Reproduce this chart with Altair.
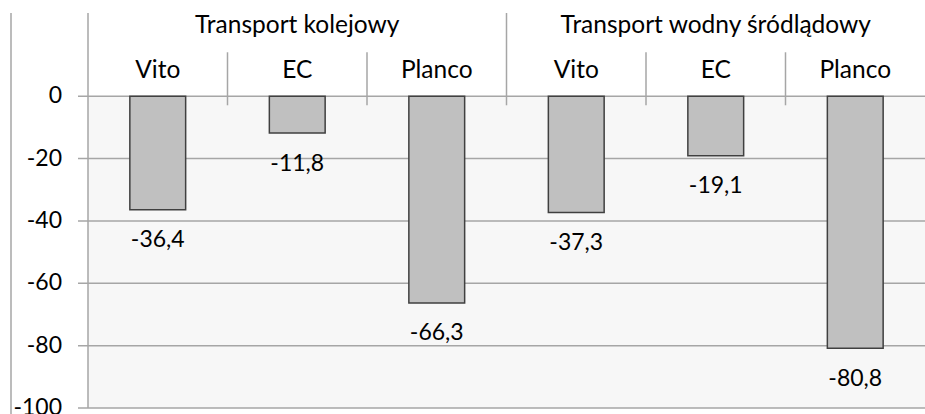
import altair as alt
import pandas as pd

groups = ["Transport kolejowy"] * 3 + ["Transport wodny śródlądowy"] * 3
methods = ["Vito", "EC", "Planco", "Vito", "EC", "Planco"]
values = [-36.4, -11.8, -66.3, -37.3, -19.1, -80.8]
y_ticks = [-100, -80, -60, -40, -20, 0]

keys = [f"{g}|{m}" for g, m in zip(groups, methods)]
df = pd.DataFrame({"key": keys, "group": groups, "method": methods, "value": values,
                   "pos": list(range(len(keys)))})
ticks_df = pd.DataFrame({"t": y_ticks})

W, H = 837, 395
FONT = "Lato"
FS_NUM = 23
FS_CAT = 24.5
GRID = "#a6a6a6"

xscale = alt.Scale(type="band", paddingInner=0, paddingOuter=0)
xenc = alt.X("key:N", sort=keys, axis=None, scale=xscale)
yscale = alt.Scale(domain=[-100, 26.7], nice=False, zero=False)

one = pd.DataFrame({"a": [0]})

background = alt.Chart(one).mark_rect(fill="#f7f7f7").encode(
    x=alt.value(0), x2=alt.value(W),
    y=alt.YDatum(0, axis=None, scale=yscale), y2=alt.Y2Datum(-100))

grid = alt.Chart(ticks_df).mark_rule(color=GRID, strokeWidth=1.5).encode(
    x=alt.value(-10), x2=alt.value(W),
    y=alt.Y("t:Q", scale=yscale, axis=None))

ylabels = alt.Chart(ticks_df).transform_calculate(
    lab="toString(datum.t)"
).mark_text(font=FONT, fontSize=FS_NUM, color="#000000", align="right",
            baseline="middle").encode(
    x=alt.value(-26), y=alt.Y("t:Q", scale=yscale, axis=None), text="lab:N")

domain = alt.Chart(one).mark_rule(color=GRID, strokeWidth=1.5).encode(
    x=alt.value(0), y=alt.value(0), y2=alt.value(H))

bars = alt.Chart(df).mark_bar(width={"band": 0.4}, fill="#c0c0c0", stroke="#404040",
                              strokeWidth=1.5).encode(
    x=xenc,
    y=alt.Y("value:Q", scale=yscale, axis=None),
    y2=alt.Y2Datum(0))

vlabels = alt.Chart(df).transform_calculate(
    lab="replace(toString(datum.value), '.', ',')"
).mark_text(font=FONT, fontSize=FS_NUM, color="#000000", baseline="alphabetic",
            dy=37.5).encode(
    x=xenc, y=alt.Y("value:Q", scale=yscale, axis=None), text="lab:N")

sublabels = alt.Chart(df).mark_text(font=FONT, fontSize=FS_CAT, color="#000000",
                                    baseline="alphabetic").encode(
    x=xenc, y=alt.YDatum(5.84, axis=None), text="method:N")

grouplabels = alt.Chart(df).transform_filter("datum.pos == 1 || datum.pos == 4").mark_text(
    font=FONT, fontSize=FS_CAT, color="#000000", baseline="alphabetic").encode(
    x=xenc, y=alt.YDatum(20.3, axis=None), text="group:N")

sep_short = alt.Chart(df).transform_filter(
    "datum.pos == 1 || datum.pos == 2 || datum.pos == 4 || datum.pos == 5"
).mark_rule(color=GRID, strokeWidth=1.5).encode(
    x=alt.X("key:N", sort=keys, axis=None, scale=xscale, bandPosition=0),
    y=alt.YDatum(-2.9, axis=None), y2=alt.Y2Datum(14.1))

sep_tall = alt.Chart(df).transform_filter("datum.pos == 3").mark_rule(
    color=GRID, strokeWidth=1.5).encode(
    x=alt.X("key:N", sort=keys, axis=None, scale=xscale, bandPosition=0),
    y=alt.YDatum(-2.9, axis=None), y2=alt.Y2Datum(26.7))

border = alt.Chart(one).mark_rule(color=GRID, strokeWidth=1.5).encode(
    x=alt.value(-77), y=alt.value(0), y2=alt.value(H + 30))

chart = alt.layer(
    background, grid, domain, sep_short, sep_tall, bars, vlabels, ylabels,
    sublabels, grouplabels, border
).properties(
    width=W, height=H,
    autosize=alt.AutoSizeParams(type="none"),
    padding={"left": 88, "top": 13, "right": 0, "bottom": 6},
    background="#ffffff",
).configure_view(stroke=None)

chart.save("out.html", embed_options={"renderer": "svg", "actions": False})
